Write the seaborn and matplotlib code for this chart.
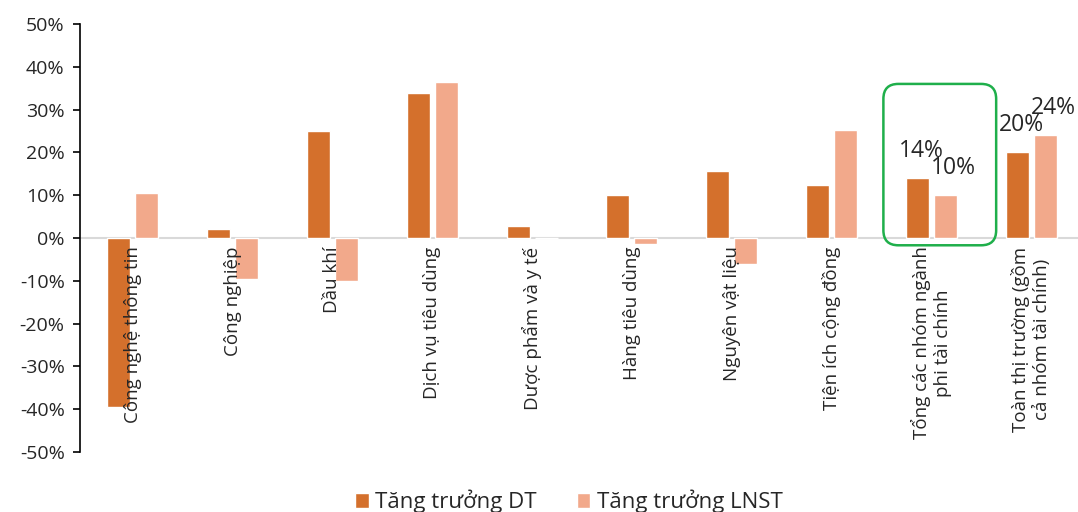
import matplotlib
matplotlib.use("Agg")
import matplotlib.pyplot as plt
from matplotlib.patches import FancyBboxPatch
import pandas as pd
import seaborn as sns

categories = [
    "Công nghệ thông tin",
    "Công nghiệp",
    "Dầu khí",
    "Dịch vụ tiêu dùng",
    "Dược phẩm và y tế",
    "Hàng tiêu dùng",
    "Nguyên vật liệu",
    "Tiện ích cộng đồng",
    "Tổng các nhóm ngành\nphi tài chính",
    "Toàn thị trường (gồm\ncả nhóm tài chính)",
]
tang_truong_dt = [-39.5, 2.1, 25.0, 33.9, 2.8, 10.0, 15.7, 12.4, 14.0, 20.0]
tang_truong_lnst = [10.5, -9.6, -10.0, 36.4, 0.0, -1.4, -6.1, 25.2, 10.0, 24.0]
series_names = ["Tăng trưởng DT", "Tăng trưởng LNST"]
labelled = {8: ("14%", "10%"), 9: ("20%", "24%")}

sns.set_theme(style="white")
plt.rcParams["font.family"] = ["Open Sans", "DejaVu Sans"]

df = pd.DataFrame({
    "category": categories * 2,
    "series": [series_names[0]] * len(categories) + [series_names[1]] * len(categories),
    "value": tang_truong_dt + tang_truong_lnst,
})

fig = plt.figure(figsize=(10.78, 5.12), dpi=100)
ax = fig.add_axes([80 / 1078, 60 / 512, 998 / 1078, 428 / 512])

sns.barplot(
    data=df, x="category", y="value", hue="series",
    palette=["#D4702C", "#F2A98B"], width=0.56, gap=0.18,
    saturation=1, ax=ax, legend=True,
)

ax.set_xlim(-0.53, 9.47)
ax.set_ylim(-50, 50)
ax.set_yticks(range(-50, 51, 10))
ax.set_yticklabels([f"{v}%" for v in range(-50, 51, 10)], fontsize=14)
ax.set_xticks([])
ax.set_xlabel("")
ax.set_ylabel("")
for side in ["top", "right", "bottom"]:
    ax.spines[side].set_visible(False)
ax.spines["left"].set_color("black")
ax.spines["left"].set_linewidth(1.2)
ax.tick_params(axis="y", left=True, length=5, width=1.2, color="black", pad=6)
ax.axhline(0, color="#D9D9D9", linewidth=1.5, zorder=0)

# category labels rotated, hanging below the zero line
for i, cat in enumerate(categories):
    ax.text(i, -2.0, cat, rotation=90, ha="center", va="top",
            multialignment="center", fontsize=13.5)

# value labels for the last two groups
for i, (a, b) in labelled.items():
    ax.text(i - 0.1, tang_truong_dt[i] + 3.6, a, ha="center", va="bottom", fontsize=16.5)
    ax.text(i + 0.22, tang_truong_lnst[i] + 3.6, b, ha="center", va="bottom", fontsize=16.5)

# green rounded highlight box
xs = 99.8 / 4.28
box = FancyBboxPatch(
    (7.52, -1.7), 1.13, 37.7,
    boxstyle="round,pad=0,rounding_size=0.15", mutation_aspect=xs,
    fill=False, edgecolor="#1FAF4B", linewidth=1.8, clip_on=False, zorder=5,
)
ax.add_patch(box)

leg = ax.legend(
    loc="lower center", bbox_to_anchor=(0.49, -0.19), ncol=2, frameon=False,
    fontsize=16, handlelength=0.6, handleheight=0.6, handletextpad=0.3,
    columnspacing=1.8, title=None,
)

fig.savefig("out.png", dpi=100)
